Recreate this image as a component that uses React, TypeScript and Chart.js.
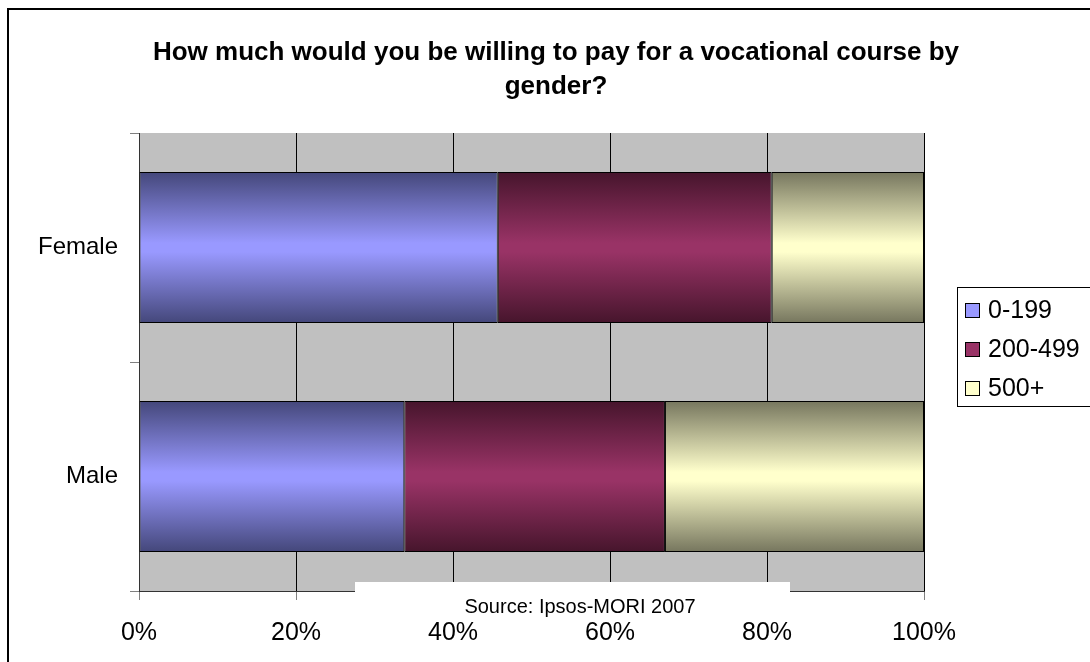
import React, { useEffect, useRef } from 'react';
import { Chart, registerables } from 'chart.js';

Chart.register(...registerables);

const FONT = '"Liberation Sans", Arial, Helvetica, sans-serif';

const TITLE_LINES = ['How much would you be willing to pay for a vocational course by', 'gender?'];
const SOURCE_TEXT = 'Source: Ipsos-MORI 2007';
const CATEGORIES = ['Female', 'Male'];
const SERIES_LABELS = ['0-199', '200-499', '500+'];
const VALUES_0_199 = [45.7, 33.8];
const VALUES_200_499 = [34.9, 33.2];
const VALUES_500_PLUS = [19.4, 33.0];
const X_TICKS = [0, 20, 40, 60, 80, 100];

const LIGHT_COLORS = ['#9999FF', '#993366', '#FFFFCC'];
const DARK_COLORS = ['#44477A', '#46152C', '#76765E'];

const BAR_FRACTION = 0.66;

function gradientFill(seriesIndex: number) {
  return (ctx: any) => {
    const chart = ctx.chart;
    const yScale = chart.scales && chart.scales.y;
    if (ctx.type !== 'data' || !yScale || !chart.chartArea) return LIGHT_COLORS[seriesIndex];
    const center = yScale.getPixelForValue(ctx.dataIndex);
    const h = (yScale.height / CATEGORIES.length) * BAR_FRACTION;
    const g = chart.ctx.createLinearGradient(0, center - h / 2, 0, center + h / 2);
    g.addColorStop(0, DARK_COLORS[seriesIndex]);
    g.addColorStop(0.47, LIGHT_COLORS[seriesIndex]);
    g.addColorStop(0.53, LIGHT_COLORS[seriesIndex]);
    g.addColorStop(1, DARK_COLORS[seriesIndex]);
    return g;
  };
}

const decorPlugin = {
  id: 'decor',
  beforeDraw(chart: any) {
    const { ctx, chartArea: a } = chart;
    ctx.save();
    ctx.fillStyle = '#C0C0C0';
    ctx.fillRect(a.left, a.top, a.right - a.left, a.bottom - a.top);
    ctx.restore();
  },
  afterDraw(chart: any) {
    const { ctx } = chart;
    ctx.save();
    // Title
    ctx.fillStyle = '#000';
    ctx.font = `bold 26px ${FONT}`;
    ctx.textAlign = 'center';
    ctx.textBaseline = 'middle';
    TITLE_LINES.forEach((line, i) => ctx.fillText(line, 556, 53 + i * 34));

    // Source box
    ctx.fillStyle = '#FFFFFF';
    ctx.fillRect(355, 582, 435, 38);
    ctx.fillStyle = '#000';
    ctx.font = `20px ${FONT}`;
    ctx.fillText(SOURCE_TEXT, 580, 607);

    // Legend
    ctx.strokeStyle = '#000';
    ctx.lineWidth = 1;
    ctx.strokeRect(957.5, 287.5, 200, 119);
    ctx.font = `25px ${FONT}`;
    ctx.textAlign = 'left';
    SERIES_LABELS.forEach((label, i) => {
      const cy = 310 + i * 39;
      ctx.fillStyle = LIGHT_COLORS[i];
      ctx.fillRect(965, cy - 7, 14, 14);
      ctx.strokeStyle = '#000';
      ctx.strokeRect(965.5, cy - 6.5, 14, 14);
      ctx.fillStyle = '#000';
      ctx.fillText(label, 988, cy + 1);
    });
    ctx.restore();
  },
};

export default function App() {
  const ref = useRef<HTMLCanvasElement>(null);

  useEffect(() => {
    const values = [VALUES_0_199, VALUES_200_499, VALUES_500_PLUS];
    const chart = new Chart(ref.current as HTMLCanvasElement, {
      type: 'bar',
      data: {
        labels: CATEGORIES,
        datasets: SERIES_LABELS.map((label, i) => ({
          label,
          data: values[i],
          backgroundColor: gradientFill(i),
          borderColor: '#000',
          borderWidth: 1,
          borderSkipped: false,
          barPercentage: 1,
          categoryPercentage: BAR_FRACTION,
        })),
      },
      options: {
        indexAxis: 'y',
        responsive: false,
        animation: false,
        devicePixelRatio: 1,
        layout: { padding: { left: 0, right: 166, top: 133, bottom: 0 } },
        plugins: {
          legend: { display: false },
          title: { display: false },
          tooltip: { enabled: false },
        },
        scales: {
          x: {
            stacked: true,
            min: 0,
            max: 100,
            afterBuildTicks: (scale: any) => {
              scale.ticks = X_TICKS.map((v) => ({ value: v }));
            },
            afterFit: (scale: any) => {
              scale.height = 71;
            },
            ticks: {
              callback: (v: any) => `${v}%`,
              color: '#000',
              font: { family: FONT, size: 25 },
              padding: 18,
              maxRotation: 0,
              autoSkip: false,
            },
            grid: {
              color: '#000',
              lineWidth: 1,
              drawTicks: true,
              tickLength: 9,
              tickColor: '#808080',
            },
            border: { display: true, color: '#333', width: 1 },
          },
          y: {
            stacked: true,
            afterFit: (scale: any) => {
              scale.width = 139;
            },
            ticks: {
              color: '#000',
              font: { family: FONT, size: 24 },
              padding: 12,
            },
            grid: {
              offset: true,
              drawOnChartArea: false,
              drawTicks: true,
              tickLength: 9,
              color: '#808080',
            },
            border: { display: true, color: '#333', width: 1 },
          },
        },
      },
      plugins: [decorPlugin],
    });
    return () => chart.destroy();
  }, []);

  return (
    <div
      style={{
        position: 'fixed',
        left: 0,
        top: 0,
        width: 1090,
        height: 662,
        overflow: 'hidden',
        background: '#fff',
      }}
    >
      <div
        style={{
          position: 'absolute',
          left: 7,
          top: 8,
          width: 1200,
          height: 800,
          border: '2px solid #000',
          boxSizing: 'border-box',
        }}
      />
      <canvas
        ref={ref}
        width={1090}
        height={662}
        style={{ position: 'absolute', left: 0, top: 0, width: 1090, height: 662 }}
      />
    </div>
  );
}
